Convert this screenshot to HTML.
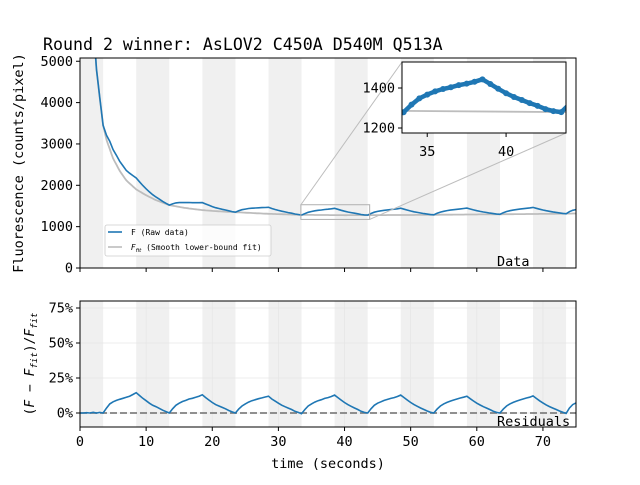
<!DOCTYPE html>
<html><head><meta charset="utf-8"><style>
body{margin:0;background:#fff}
svg text{font-family:"DejaVu Sans Mono","Liberation Mono",monospace;fill:#000}
</style></head><body>
<svg id="c" width="640" height="480" viewBox="0 0 640 480"></svg>
<script>
// ---- data ----
const fitTimes=[1.5,2,2.5,3,3.5,4,5,6,7,8.5,10,11.5,13.5,16,18.5,21,23.5,28.5,33.5,40,50,60,70,75];
const fitValues=[9000,5900,4800,4100,3450,3100,2650,2350,2120,1900,1760,1640,1520,1450,1400,1370,1350,1310,1285,1278,1282,1295,1308,1318];
// residuals sampled every 0.5 s from t=0
const residuals=[
0,0,0.002,0,0.005,0,0.004,
0,0.035,0.065,0.08,0.09,0.098,0.105,0.112,0.12,0.132,0.145,0.125,0.105,0.088,0.07,0.055,0.045,0.033,0.02,0.01,
0,0.03,0.055,0.07,0.082,0.09,0.1,0.105,0.112,0.12,0.13,0.11,0.092,0.075,0.06,0.05,0.04,0.03,0.018,0.008,
0,0.028,0.05,0.065,0.078,0.088,0.095,0.102,0.108,0.114,0.12,0.1,0.085,0.07,0.056,0.045,0.035,0.025,0.012,0.004,
-0.005,0.025,0.05,0.065,0.078,0.088,0.095,0.104,0.11,0.118,0.128,0.11,0.092,0.075,0.06,0.048,0.036,0.025,0.012,0.004,
0,0.03,0.055,0.07,0.08,0.09,0.097,0.104,0.11,0.118,0.128,0.11,0.092,0.075,0.06,0.048,0.036,0.025,0.014,0.005,
0,0.028,0.05,0.065,0.076,0.085,0.093,0.1,0.107,0.113,0.12,0.102,0.086,0.07,0.057,0.045,0.035,0.024,0.013,0.004,
0,0.028,0.05,0.065,0.076,0.085,0.093,0.1,0.107,0.113,0.122,0.104,0.087,0.072,0.058,0.046,0.035,0.025,0.014,0.005,
-0.003,0.035,0.06,0.072];
const bandStarts=[0,8.5,18.5,28.5,38.5,48.5,58.5,68.5];
const bandEnds=[3.5,13.5,23.5,33.5,43.5,53.5,63.5,73.5];
const xTicks=[0,10,20,30,40,50,60,70];
const yTicksTop=[0,1000,2000,3000,4000,5000];
const yTicksBot=[0,0.25,0.5,0.75];
const yTickLabelsBot=["0%","25%","50%","75%"];
const insetXTicks=[35,40];
const insetYTicks=[1200,1400];

const NS="http://www.w3.org/2000/svg",svg=document.getElementById('c');
function el(t,a,p){const e=document.createElementNS(NS,t);for(const k in a)e.setAttribute(k,a[k]);(p||svg).appendChild(e);return e;}
function txt(s,a,p){const e=el('text',a,p);e.textContent=s;return e;}
const X0=80,X1=576,T0=58,T1=268,B0=301,B1=427;
const xs=t=>X0+(t-0)/(75-0)*(X1-X0);
const yT=v=>268-v*0.04135;
const yB=r=>413-r*140;
const ix=t=>402+(t-33.4)/(43.8-33.4)*164;
const iy=v=>133-(v-1175)/(1530-1175)*71;
function fitAt(t){if(t<=fitTimes[0])return fitValues[0];for(let i=1;i<fitTimes.length;i++){if(t<=fitTimes[i]){const f=(t-fitTimes[i-1])/(fitTimes[i]-fitTimes[i-1]);return fitValues[i-1]+f*(fitValues[i]-fitValues[i-1]);}}return fitValues[fitValues.length-1];}
const times=residuals.map((r,i)=>i*0.5);
const raw=residuals.map((r,i)=>fitAt(times[i])*(1+r));

txt("Round 2 winner: AsLOV2 C450A D540M Q513A",{x:43,y:50,"font-size":16.6,});

const defs=el('defs',{});
const c1=el('clipPath',{id:'ct'},defs);el('rect',{x:X0,y:T0,width:X1-X0,height:T1-T0},c1);
const c2=el('clipPath',{id:'cb'},defs);el('rect',{x:X0,y:B0,width:X1-X0,height:B1-B0},c2);
const c3=el('clipPath',{id:'ci'},defs);el('rect',{x:402,y:62,width:164,height:71},c3);

[[T0,T1,'ct'],[B0,B1,'cb']].forEach(([a,b,c])=>{
 const g=el('g',{'clip-path':`url(#${c})`});
 bandStarts.forEach((s,i)=>{const r=el('rect',{x:xs(s),y:a,width:xs(bandEnds[i])-xs(s),height:b-a,fill:'#f0f0f0'},g);
 
 });
});
xTicks.forEach(t=>el('line',{x1:xs(t),x2:xs(t),y1:B0,y2:B1,stroke:'#e6e6e6','stroke-width':0.8}));
yTicksBot.forEach(v=>el('line',{x1:X0,x2:X1,y1:yB(v),y2:yB(v),stroke:'#e6e6e6','stroke-width':0.8}));

function pathD(xa,ya){return xa.map((x,i)=>(i?'L':'M')+x.toFixed(1)+','+ya[i].toFixed(1)).join('');}
const ft=[];for(let t=1.5;t<=75;t+=0.25)ft.push(t);
const gt=el('g',{'clip-path':'url(#ct)'});
const fp=el('path',{d:pathD(ft.map(xs),ft.map(t=>yT(fitAt(t)))),fill:'none',stroke:'#bdbdbd','stroke-width':1.8},gt);

const rp=el('path',{d:pathD(times.map(xs),raw.map(yT)),fill:'none',stroke:'#1f77b4','stroke-width':1.6},gt);

el('rect',{x:xs(33.4),y:yT(1530),width:xs(43.8)-xs(33.4),height:yT(1175)-yT(1530),fill:'none',stroke:'#b0b0b0','stroke-width':1,});
el('line',{x1:xs(33.4),y1:yT(1530),x2:402,y2:62,stroke:'#bdbdbd','stroke-width':1});
el('line',{x1:xs(43.8),y1:yT(1175),x2:566,y2:133,stroke:'#bdbdbd','stroke-width':1});
el('rect',{x:X0,y:T0,width:X1-X0,height:T1-T0,fill:'none',stroke:'#000','stroke-width':1,});
xTicks.forEach(t=>el('line',{x1:xs(t),x2:xs(t),y1:T1,y2:T1+4,stroke:'#000'}));
yTicksTop.forEach(v=>{el('line',{x1:X0-4,x2:X0,y1:yT(v),y2:yT(v),stroke:'#000'});
 txt(String(v),{x:X0-7,y:yT(v)+4.5,'font-size':13.5,'text-anchor':'end',});});
txt("Fluorescence (counts/pixel)",{x:0,y:0,'font-size':13.5,'text-anchor':'middle',transform:'translate(23,163) rotate(-90)',});
txt("Data",{x:497,y:266,'font-size':13.5,});
const lg=el('g',{});
el('rect',{x:105,y:225,width:166,height:31,fill:'#fff','fill-opacity':0.8,stroke:'#ccc','stroke-width':0.8,rx:2},lg);
el('line',{x1:108,x2:122,y1:232,y2:232,stroke:'#1f77b4','stroke-width':1.6},lg);
txt("F  (Raw data)",{x:131,y:235,'font-size':8,},lg);
el('line',{x1:108,x2:122,y1:247,y2:247,stroke:'#bdbdbd','stroke-width':1.6},lg);
const lt=txt("",{x:131,y:250,'font-size':8,},lg);
lt.innerHTML='<tspan font-style="italic" font-family="DejaVu Sans,sans-serif">F</tspan><tspan font-size="5.5" dy="2" font-style="italic" font-family="DejaVu Sans,sans-serif">fit</tspan><tspan dy="-2"> (Smooth lower-bound fit)</tspan>';

const ig=el('g',{});
el('rect',{x:402,y:62,width:164,height:71,fill:'#fff'},ig);
const igc=el('g',{'clip-path':'url(#ci)'},ig);
el('line',{x1:402,x2:566,y1:iy(fitAt(33.4)),y2:iy(fitAt(43.8)),stroke:'#bdbdbd','stroke-width':1.8},igc);
const ii=times.map((t,i)=>i).filter(i=>times[i]>=33&&times[i]<=44.5);
el('path',{d:pathD(ii.map(i=>ix(times[i])),ii.map(i=>iy(raw[i]))),fill:'none',stroke:'#1f77b4','stroke-width':4.5,'stroke-linejoin':'round'},igc);
ii.forEach(i=>{const c=el('circle',{cx:ix(times[i]),cy:iy(raw[i]),r:3,fill:'#1f77b4'},igc);
 });
el('rect',{x:402,y:62,width:164,height:71,fill:'none',stroke:'#000'},ig);
insetXTicks.forEach(t=>{el('line',{x1:ix(t),x2:ix(t),y1:133,y2:137,stroke:'#000'},ig);
 txt(String(t),{x:ix(t),y:156,'font-size':13.5,'text-anchor':'middle',},ig);});
insetYTicks.forEach(v=>{el('line',{x1:398,x2:402,y1:iy(v),y2:iy(v),stroke:'#000'},ig);
 txt(String(v),{x:395,y:iy(v)+4.5,'font-size':13.5,'text-anchor':'end',},ig);});

const gb=el('g',{'clip-path':'url(#cb)'});
el('line',{x1:X0,x2:X1,y1:yB(0),y2:yB(0),stroke:'#808080','stroke-width':1.8,'stroke-dasharray':'7,3',},gb);
const rr=el('path',{d:pathD(times.map(xs),residuals.map(yB)),fill:'none',stroke:'#1f77b4','stroke-width':1.6},gb);

el('rect',{x:X0,y:B0,width:X1-X0,height:B1-B0,fill:'none',stroke:'#000',});
xTicks.forEach(t=>{el('line',{x1:xs(t),x2:xs(t),y1:B1,y2:B1+4,stroke:'#000'});
 txt(String(t),{x:xs(t),y:446,'font-size':13.5,'text-anchor':'middle',});});
yTicksBot.forEach((v,i)=>{el('line',{x1:X0-4,x2:X0,y1:yB(v),y2:yB(v),stroke:'#000'});
 txt(yTickLabelsBot[i],{x:X0-7,y:yB(v)+4.5,'font-size':13.5,'text-anchor':'end',});});
const yl=txt("",{x:0,y:0,'font-size':13,'text-anchor':'middle',transform:'translate(34,364) rotate(-90)','font-family':'DejaVu Sans,sans-serif'});
yl.innerHTML='<tspan>(</tspan><tspan font-style="italic">F</tspan><tspan> − </tspan><tspan font-style="italic">F</tspan><tspan font-size="9" dy="3" font-style="italic">fit</tspan><tspan dy="-3">)/</tspan><tspan font-style="italic">F</tspan><tspan font-size="9" dy="3" font-style="italic">fit</tspan>';
txt("Residuals",{x:497,y:426,'font-size':13.5,});
txt("time (seconds)",{x:328,y:468,'font-size':13.5,'text-anchor':'middle',});
</script>
</body></html>
